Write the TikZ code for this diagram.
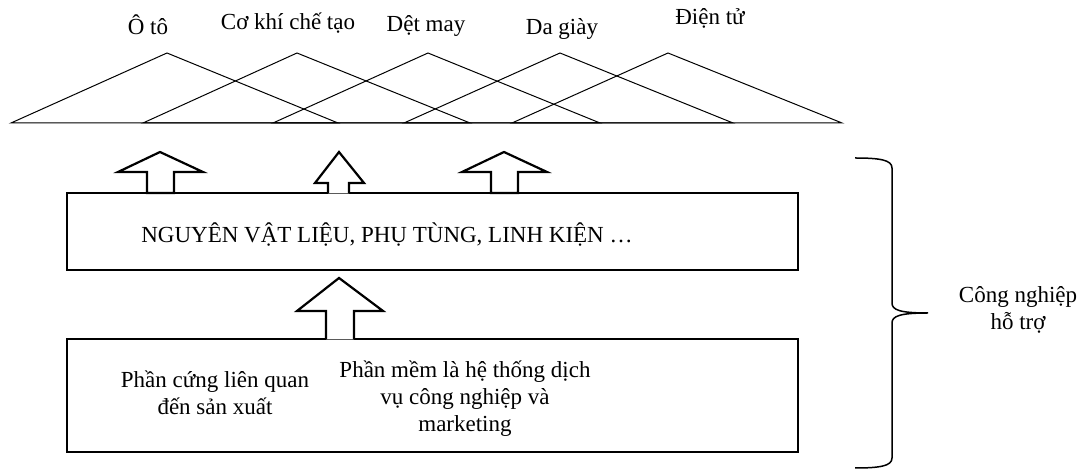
\documentclass[tikz,border=0pt]{standalone}
\usepackage{fontspec}
\setmainfont{Liberation Serif}
\begin{document}
\begin{tikzpicture}[x=0.5pt,y=-0.5pt,
  every node/.style={font=\fontsize{11.5}{13.5}\selectfont, inner sep=0pt},
  tri/.style={line width=0.5pt, line join=miter},
  boxstyle/.style={draw, line width=1.1pt, minimum width=365.5pt, inner sep=0pt},
  blockarrow/.style={draw, line width=1.1pt, fill=white, line join=miter},
  label/.style={anchor=base},
  brace/.style={line width=0.75pt}]
\useasboundingbox (0,0) rectangle (1089,469);
% triangles
\draw[tri] (11,123) -- (167,53) -- (338,123) -- cycle;
\draw[tri] (143,123) -- (297,53) -- (470,123) -- cycle;
\draw[tri] (273,123) -- (428,53) -- (600,123) -- cycle;
\draw[tri] (404,123) -- (560,53) -- (733,123) -- cycle;
\draw[tri] (512,123) -- (668,53) -- (842,123) -- cycle;
% labels
\node[label] (l1) at (148,35) {Ô tô};
\node[label] (l2) at (288,30) {Cơ khí chế tạo};
\node[label] (l3) at (426,32) {Dệt may};
\node[label] (l4) at (562,35) {Da giày};
\node[label] (l5) at (710,25) {Điện tử};
% boxes
\node[boxstyle, minimum height=38.5pt] (box1) at (432.5,231.5) {};
\node[label] (t1) at (387,243) {NGUYÊN VẬT LIỆU, PHỤ TÙNG, LINH KIỆN …};
\node[boxstyle, minimum height=56.5pt] (box2) at (432.5,395.5) {};
% arrows above box1
\draw[blockarrow] (147,193) -- (147,172) -- (118,172) -- (160,152) -- (203,172) -- (174,172) -- (174,193) -- cycle;
\draw[blockarrow] (328,193.5) -- (328,183) -- (315,183) -- (339,152) -- (364,183) -- (349,183) -- (349,193.5);
\draw[blockarrow] (491,193) -- (491,172) -- (462,172) -- (504,152) -- (547,172) -- (518,172) -- (518,193) -- cycle;
% arrow between boxes
\draw[blockarrow] (326,339.5) -- (326,311) -- (297,311) -- (339,278) -- (383,311) -- (354,311) -- (354,339.5);
% texts in box2
\node[align=center] (t2) at (215,393) {Phần cứng liên quan\\đến sản xuất};
\node[align=center] (t3) at (465,399) {Phần mềm là hệ thống dịch\\vụ công nghiệp và\\marketing};
% brace
\draw[brace] (855,158) .. controls (880,158) and (892,160) .. (892,168) -- (892,303)
  .. controls (892,310) and (900,313) .. (928,313)
  .. controls (900,313) and (892,316) .. (892,323) -- (892,458)
  .. controls (892,466) and (880,468) .. (855,468);
\node[align=center] (t4) at (1018,310) {Công nghiệp\\hỗ trợ};
\end{tikzpicture}
\end{document}
